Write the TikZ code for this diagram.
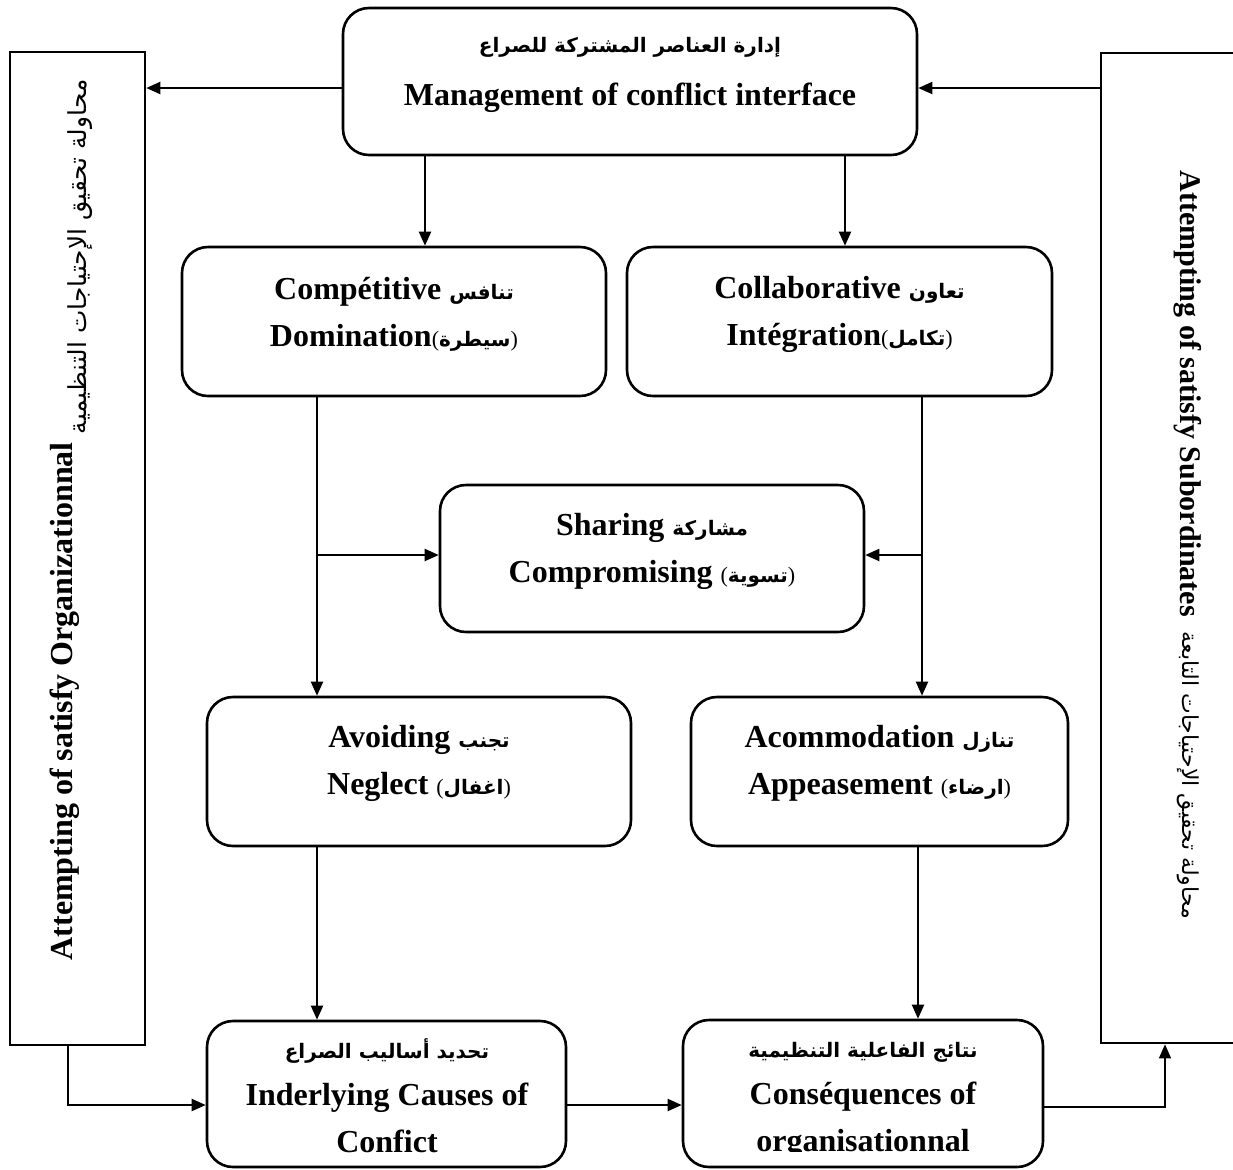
\documentclass[tikz,border=0pt]{standalone}
\usepackage{fontspec}
\setmainfont{Liberation Serif}
\newfontfamily\arabicfont[Script=Arabic]{DejaVu Sans}
\TeXXeTstate=1
\usetikzlibrary{arrows.meta}

% Arabic words set right to left, and Arabic words in parentheses
\newcommand\arabtxt[1]{{\arabicfont\fontsize{10}{12}\selectfont\beginR #1\endR}}
\newcommand\arabpar[1]{{\mdseries\fontsize{11}{13}\selectfont(}\arabtxt{#1}{\mdseries\fontsize{11}{13}\selectfont)}}

\begin{document}
\begin{tikzpicture}[x=0.5pt,y=-0.5pt,
  box/.style={draw, line width=1.3pt, rounded corners=13pt, inner sep=0pt},
  bar/.style={draw, line width=1.3pt, inner sep=0pt},
  lbl/.style={font=\bfseries\fontsize{16}{23.5}\selectfont, align=center, inner sep=0pt},
  side/.style={font=\bfseries\fontsize{16}{18}\selectfont, inner sep=0pt, anchor=base},
  arr/.style={line width=1pt, -{Triangle[length=7pt,width=6pt]}},
]
\useasboundingbox (0,0) rectangle (1233,1169);
\fill[white] (0,0) rectangle (1233,1169);
\clip (0,0) rectangle (1233,1169);

% boxes
\node[box, minimum width=287pt, minimum height=73.5pt] (top) at (630,81.5) {};
\node[box, minimum width=212pt, minimum height=74.5pt] (comp) at (394,321.5) {};
\node[box, minimum width=212.5pt, minimum height=74.5pt] (coll) at (839.5,321.5) {};
\node[box, minimum width=212pt, minimum height=73.5pt] (share) at (652,558.5) {};
\node[box, minimum width=212pt, minimum height=74.5pt] (avoid) at (419,771.5) {};
\node[box, minimum width=188.5pt, minimum height=74.5pt] (acc) at (879.5,771.5) {};
\node[box, minimum width=179.5pt, minimum height=73pt] (inder) at (386.5,1094) {};
\node[box, minimum width=180pt, minimum height=73.5pt] (cons) at (863,1093.5) {};
\node[bar, minimum width=67.5pt, minimum height=496.5pt] (leftbar) at (77.5,548.5) {};
\node[bar, minimum width=79.5pt, minimum height=495pt] (rightbar) at (1180.5,548) {};

% box texts
\node[lbl] (toptxt) at (630,75) {\arabtxt{إدارة العناصر المشتركة للصراع}\\[3pt]Management of conflict interface};
\node[lbl] (comptxt) at (394,314) {Compétitive \arabtxt{تنافس}\\Domination\arabpar{سيطرة}};
\node[lbl] (colltxt) at (839.5,314) {Collaborative \arabtxt{تعاون}\\Intégration\arabpar{تكامل}};
\node[lbl] (sharetxt) at (652,551) {Sharing \arabtxt{مشاركة}\\Compromising \arabpar{تسوية}};
\node[lbl] (avoidtxt) at (419,763) {Avoiding \arabtxt{تجنب}\\Neglect \arabpar{اغفال}};
\node[lbl] (acctxt) at (879.5,763) {Acommodation \arabtxt{تنازل}\\Appeasement \arabpar{ارضاء}};
\node[lbl] (indertxt) at (387,1096) {\arabtxt{تحديد أساليب الصراع}\\Inderlying Causes of\\Confict};
\begin{scope}
  \clip (683,1020) rectangle (1043,1151);
  \node[lbl] (constxt) at (863,1100) {\arabtxt{نتائج الفاعلية التنظيمية}\\Conséquences of\\organisationnal};
\end{scope}

% side texts
\node[side, rotate=90] (lefttxt) at (72,520) {Attempting of satisfy Organizationnal \raisebox{-7pt}{\mdseries\arabicfont\fontsize{12.4}{14}\selectfont\beginR محاولة تحقيق الإحتياجات التنظيمية\endR}};
\node[side, rotate=-90, font=\bfseries\fontsize{15}{18}\selectfont] (righttxt) at (1180,545) {Attempting of satisfy Subordinates \ \raisebox{1pt}{\mdseries\arabicfont\fontsize{11}{13}\selectfont\beginR محاولة تحقيق الإحتياجات التابعة\endR}};

% line positions
\coordinate (xa) at (425,0);
\coordinate (xb) at (845,0);
\coordinate (xc) at (317,0);
\coordinate (xd) at (922,0);
\coordinate (xe) at (918,0);
\coordinate (xf) at (68,0);
\coordinate (xg) at (1165,0);
\coordinate (ya) at (0,88);
\coordinate (yb) at (0,555);
\coordinate (yc) at (0,1105);
\coordinate (yd) at (0,1107);

% connectors
\draw[arr] (top.west |- ya) -- (leftbar.east |- ya);
\draw[arr] (rightbar.west |- ya) -- (top.east |- ya);
\draw[arr] (xa |- top.south) -- (xa |- comp.north);
\draw[arr] (xb |- top.south) -- (xb |- coll.north);
\draw[arr] (xc |- comp.south) -- (xc |- avoid.north);
\draw[arr] (xc |- yb) -- (share.west |- yb);
\draw[arr] (xd |- coll.south) -- (xd |- acc.north);
\draw[arr] (xd |- yb) -- (share.east |- yb);
\draw[arr] (xc |- avoid.south) -- (xc |- inder.north);
\draw[arr] (xe |- acc.south) -- (xe |- cons.north);
\draw[arr] (xf |- leftbar.south) |- (inder.west |- yc);
\draw[arr] (inder.east |- yc) -- (cons.west |- yc);
\draw[arr, line width=0.6pt] (cons.east |- yd) -| (xg |- rightbar.south);
\end{tikzpicture}
\end{document}
